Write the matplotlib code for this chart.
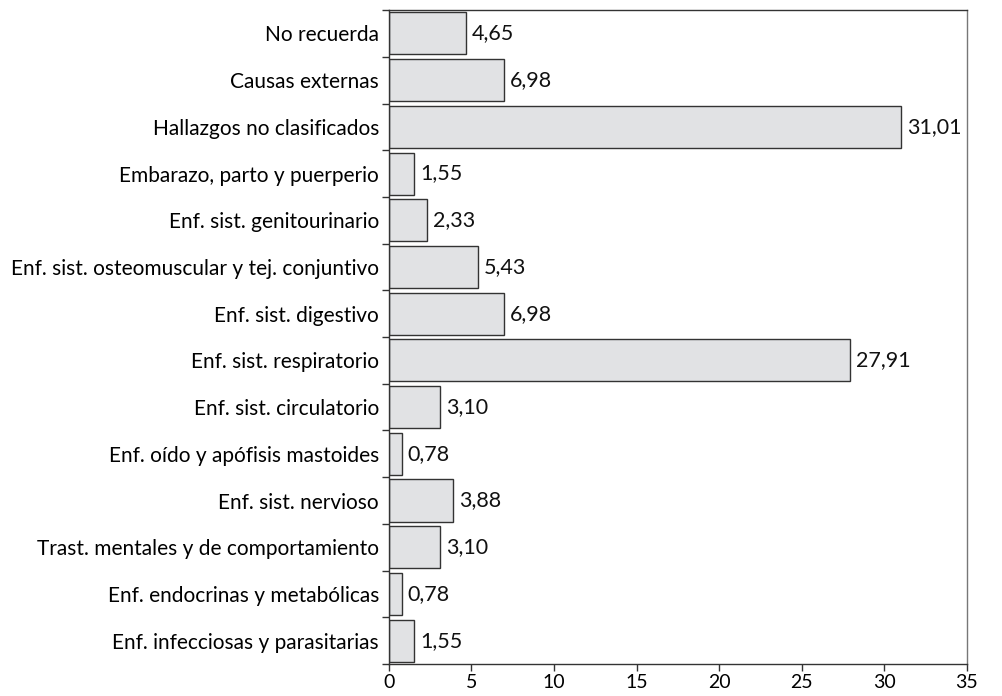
import numpy as np
import matplotlib.pyplot as plt

# categorias (de arriba a abajo) y porcentajes
categorias = [
    "No recuerda",
    "Causas externas",
    "Hallazgos no clasificados",
    "Embarazo, parto y puerperio",
    "Enf. sist. genitourinario",
    "Enf. sist. osteomuscular y tej. conjuntivo",
    "Enf. sist. digestivo",
    "Enf. sist. respiratorio",
    "Enf. sist. circulatorio",
    "Enf. oído y apófisis mastoides",
    "Enf. sist. nervioso",
    "Trast. mentales y de comportamiento",
    "Enf. endocrinas y metabólicas",
    "Enf. infecciosas y parasitarias",
]
porcentajes = [4.65, 6.98, 31.01, 1.55, 2.33, 5.43, 6.98, 27.91, 3.10, 0.78, 3.88, 3.10, 0.78, 1.55]
xticks = [0, 5, 10, 15, 20, 25, 30, 35]

plt.rcParams['font.family'] = ['Lato', 'DejaVu Sans']

fig = plt.figure(figsize=(10.02, 6.96), dpi=100)
ax = fig.add_axes([0.388, 0.046, 0.577, 0.9395])

y = np.arange(len(categorias))
ax.barh(y, porcentajes, height=0.9, color='#e1e2e4', edgecolor='#333333', linewidth=1)

# etiquetas de valor con coma decimal
for yi, v in zip(y, porcentajes):
    ax.text(v + 0.35, yi, f"{v:.2f}".replace('.', ','), va='center', ha='left',
            fontsize=15.5, color='#111111')

ax.set_xlim(0, 35)
ax.set_ylim(len(categorias) - 0.5, -0.5)
ax.set_xticks(xticks)
ax.set_xticklabels([str(t) for t in xticks], fontsize=14)
ax.set_yticks(y)
ax.set_yticklabels(categorias, fontsize=15)
ax.set_yticks(np.arange(-0.5, len(categorias)), minor=True)
ax.tick_params(axis='y', which='major', length=0, pad=7)
ax.tick_params(axis='y', which='minor', length=5, width=1, color='#333333')
ax.tick_params(axis='x', length=5, width=1, color='#333333', pad=2)

for s in ax.spines.values():
    s.set_color('#333333')
    s.set_linewidth(1)
ax.spines['right'].set_color('#777777')

fig.savefig("out.png", dpi=100)
